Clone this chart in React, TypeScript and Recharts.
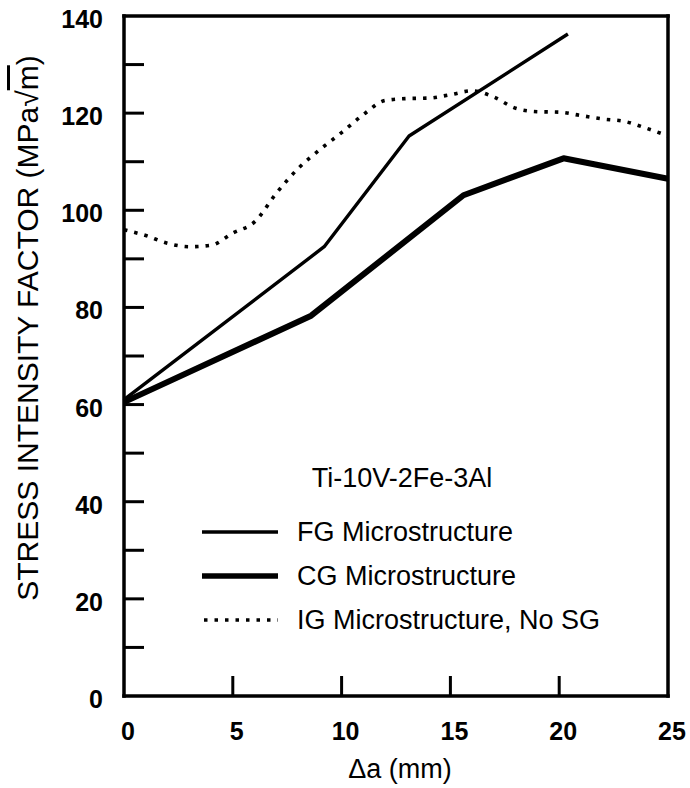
import { LineChart, Line, XAxis, YAxis, Legend } from 'recharts'

document.body.style.margin = '0'

// crack extension (mm) and stress intensity (MPa√m)
const FG_X = [0, 9.2, 13.1, 20.4]
const FG_K = [61, 92.5, 115.3, 136.3]

const CG_X = [0, 8.6, 15.6, 20.2, 25]
const CG_K = [60.5, 78.3, 103.1, 110.7, 106.5]

const IG_X = [0, 1, 2, 3, 4, 5, 6, 7, 8, 9, 10, 11, 12, 13, 14, 15, 16, 17, 18, 19, 20, 21, 22, 23, 24, 25]
const IG_K = [96, 94.8, 93.2, 92.5, 92.8, 95.3, 97.6, 103.5, 108.6, 112.5, 116, 119.7, 122.6, 123, 123.1, 123.8, 124.6, 123.3, 121, 120.3, 120.2, 119.5, 118.8, 118.3, 116.9, 115.3]

const X_TICKS = [0, 5, 10, 15, 20, 25]
const X_TOP_TICKS = [5, 10, 15, 20]
const Y_TICKS = [0, 10, 20, 30, 40, 50, 60, 70, 80, 90, 100, 110, 120, 130, 140]
const Y_LABELS = [0, 20, 40, 60, 80, 100, 120, 140]

const SERIES = [
  { key: 'fg', name: 'FG Microstructure', width: 3.4, dash: undefined as string | undefined },
  { key: 'cg', name: 'CG Microstructure', width: 6, dash: undefined as string | undefined },
  { key: 'ig', name: 'IG Microstructure, No SG', width: 3.6, dash: '3.5 7' },
]

const fgData = FG_X.map((x, i) => ({ x, k: FG_K[i] }))
const cgData = CG_X.map((x, i) => ({ x, k: CG_K[i] }))
const igData = IG_X.map((x, i) => ({ x, k: IG_K[i] }))

const FONT = '"Liberation Sans", Arial, Helvetica, sans-serif'
const TICK_LEN = 20
const axisLine = { stroke: '#000', strokeWidth: 3.5, strokeLinecap: 'square' as const }

const BottomTick = (props: any) => {
  const { x, y, payload } = props
  return (
    <g>
      {payload.value > 0 && payload.value < 25 && (
        <line x1={x} y1={y} x2={x} y2={y - TICK_LEN} stroke="#000" strokeWidth={3} />
      )}
      <text x={x + 4} y={y + 44} textAnchor="middle" fontFamily={FONT} fontSize={25} fontWeight="bold" fill="#000">
        {payload.value}
      </text>
    </g>
  )
}

const TopTick = (props: any) => {
  const { x, y } = props
  return <line x1={x} y1={y} x2={x} y2={y + TICK_LEN} stroke="#000" strokeWidth={3} />
}

const LeftTick = (props: any) => {
  const { x, y, payload } = props
  const v = payload.value
  return (
    <g>
      {v > 0 && v < 140 && <line x1={x} y1={y} x2={x + TICK_LEN} y2={y} stroke="#000" strokeWidth={3} />}
      {Y_LABELS.includes(v) && (
        <text x={x - 21} y={y + 12} textAnchor="end" fontFamily={FONT} fontSize={25} fontWeight="bold" fill="#000">
          {v}
        </text>
      )}
    </g>
  )
}

const RightTick = (props: any) => {
  const { x, y, payload } = props
  const v = payload.value
  if (v <= 0 || v >= 140) return <g />
  return <line x1={x} y1={y} x2={x - TICK_LEN} y2={y} stroke="#000" strokeWidth={3} />
}

const YTitle = (props: any) => {
  const { viewBox } = props
  const cx = viewBox.x - 37
  const cy = viewBox.y + viewBox.height / 2 - 28
  return (
    <text
      x={cx}
      y={cy}
      transform={`rotate(-90, ${cx}, ${cy})`}
      textAnchor="middle"
      dominantBaseline="central"
      fontFamily={FONT}
      fontSize={30}
      fill="#000"
    >
      STRESS INTENSITY FACTOR (MPa√<tspan textDecoration="overline">m</tspan>)
    </text>
  )
}

const XTitle = (props: any) => {
  const { viewBox } = props
  return (
    <text
      x={viewBox.x + viewBox.width / 2 + 4}
      y={viewBox.y + viewBox.height + 22}
      textAnchor="middle"
      fontFamily={FONT}
      fontSize={27}
      fill="#000"
    >
      Δa (mm)
    </text>
  )
}

const LegendBox = () => (
  <svg width={460} height={190} style={{ display: 'block' }}>
    <text x={222} y={23} textAnchor="middle" dominantBaseline="central" fontFamily={FONT} fontSize={27} fill="#000">
      Ti-10V-2Fe-3Al
    </text>
    {SERIES.map((s, i) => {
      const y = 77 + i * 44
      return (
        <g key={s.key}>
          <line
            x1={s.dash ? 24 : 22}
            y1={y}
            x2={98}
            y2={y}
            stroke="#000"
            strokeWidth={s.key === 'cg' ? 5.5 : s.dash ? 3.4 : 3.5}
            strokeDasharray={s.dash}
          />
          <text x={117} y={y} dominantBaseline="central" fontFamily={FONT} fontSize={27} fill="#000">
            {s.name}
          </text>
        </g>
      )
    })}
  </svg>
)

export default function App() {
  return (
    <div style={{ width: 690, height: 788, background: '#fff' }}>
      <LineChart width={690} height={788} margin={{ top: 14, right: 20, bottom: 32, left: 64 }}>
        <XAxis
          xAxisId="b"
          dataKey="x"
          type="number"
          domain={[0, 25]}
          ticks={X_TICKS}
          interval={0}
          height={60}
          axisLine={axisLine}
          tickLine={false}
          tickSize={0}
          tickMargin={0}
          tick={BottomTick}
          label={{ content: XTitle }}
        />
        <XAxis
          xAxisId="t"
          orientation="top"
          dataKey="x"
          type="number"
          domain={[0, 25]}
          ticks={X_TOP_TICKS}
          interval={0}
          height={2}
          axisLine={axisLine}
          tickLine={false}
          tickSize={0}
          tickMargin={0}
          tick={TopTick}
        />
        <YAxis
          yAxisId="l"
          type="number"
          domain={[0, 140]}
          ticks={Y_TICKS}
          interval={0}
          width={60}
          axisLine={axisLine}
          tickLine={false}
          tickSize={0}
          tickMargin={0}
          tick={LeftTick}
          label={{ content: YTitle }}
        />
        <YAxis
          yAxisId="r"
          orientation="right"
          type="number"
          domain={[0, 140]}
          ticks={Y_TICKS}
          interval={0}
          width={2}
          axisLine={axisLine}
          tickLine={false}
          tickSize={0}
          tickMargin={0}
          tick={RightTick}
        />
        <Legend
          layout="vertical"
          align="center"
          verticalAlign="middle"
          content={LegendBox}
          wrapperStyle={{ left: 180, top: 455, width: 460, height: 190 }}
        />
        <Line
          xAxisId="b"
          yAxisId="l"
          data={igData}
          dataKey="k"
          name={SERIES[2].name}
          type="monotone"
          stroke="#000"
          strokeWidth={SERIES[2].width}
          strokeDasharray={SERIES[2].dash}
          dot={false}
          isAnimationActive={false}
        />
        <Line
          xAxisId="b"
          yAxisId="l"
          data={fgData}
          dataKey="k"
          name={SERIES[0].name}
          type="linear"
          stroke="#000"
          strokeWidth={SERIES[0].width}
          strokeLinejoin="round"
          dot={false}
          isAnimationActive={false}
        />
        <Line
          xAxisId="b"
          yAxisId="l"
          data={cgData}
          dataKey="k"
          name={SERIES[1].name}
          type="linear"
          stroke="#000"
          strokeWidth={SERIES[1].width}
          strokeLinejoin="round"
          dot={false}
          isAnimationActive={false}
        />
      </LineChart>
    </div>
  )
}
